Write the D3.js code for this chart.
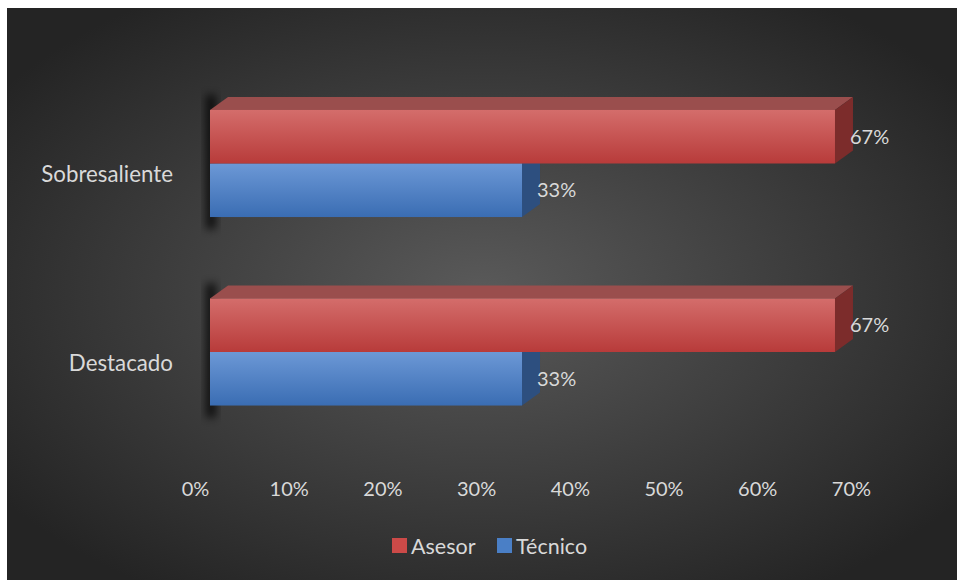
<!DOCTYPE html>
<html><head><meta charset="utf-8">
<script src="https://cdn.jsdelivr.net/npm/d3@7"></script>
<style>html,body{margin:0;padding:0;background:#fff;}svg{display:block;}</style>
</head><body>
<svg id="c" width="957" height="580"></svg>
<script>
const categories = ["Sobresaliente", "Destacado"];
const seriesNames = ["Asesor", "Técnico"];
const asesor = [0.667, 0.667];
const tecnico = [0.333, 0.333];
const tickValues = [0, 0.1, 0.2, 0.3, 0.4, 0.5, 0.6, 0.7];

const svg = d3.select("#c");
const font = "Lato, 'Open Sans', sans-serif";
const defs = svg.append("defs");

const bg = defs.append("radialGradient").attr("id","bg").attr("cx","50%").attr("cy","50%").attr("r","62%");
bg.append("stop").attr("offset","0%").attr("stop-color","#5a5a5a");
bg.append("stop").attr("offset","100%").attr("stop-color","#242424");

function lin(id, c1, c2){
  const g = defs.append("linearGradient").attr("id", id).attr("x1",0).attr("y1",0).attr("x2",0).attr("y2",1);
  g.append("stop").attr("offset","0%").attr("stop-color",c1);
  g.append("stop").attr("offset","100%").attr("stop-color",c2);
}
lin("redF", "#d46d6b", "#b83b3a");
lin("bluF", "#6c98d6", "#3a6db3");
defs.append("filter").attr("id","blur").attr("x","-50%").attr("y","-20%").attr("width","200%").attr("height","140%")
  .append("feGaussianBlur").attr("stdDeviation", 4);

svg.append("rect").attr("x",7).attr("y",8).attr("width",950).attr("height",572).attr("fill","url(#bg)");

const x = d3.scaleLinear().domain([0, 0.7]).range([210, 210 + 0.7 * 937]);
const y = d3.scaleBand().domain(categories).range([69.25, 446.25]).paddingInner(0.432).paddingOuter(0.216);
const ys = d3.scaleBand().domain(seriesNames).range([0, y.bandwidth()]);
const dx = 18, dy = -13;

const color = {
  "Asesor": {front:"url(#redF)", top:"#9a4e4d", side:"#7c2c2b"},
  "Técnico": {front:"url(#bluF)", top:"#4f74a8", side:"#2d4f7f"}
};
const values = {"Asesor": asesor, "Técnico": tecnico};

// shadows
categories.forEach(c => {
  const y0 = y(c), y1 = y(c) + y.bandwidth();
  svg.append("path")
    .attr("d", `M${x(0)-4},${y0+dy-2} L${x(0)+6},${y0+dy-2} L${x(0)+6},${y1+12} L${x(0)-4},${y1+12} Z`)
    .attr("fill","#000").attr("opacity",0.75).attr("filter","url(#blur)");
});

const order = ["Técnico", "Asesor"];
categories.forEach((c, i) => {
  order.forEach(s => {
    const v = values[s][i];
    const x0 = x(0), x1 = x(v);
    const t = y(c) + ys(s), b = t + ys.bandwidth();
    const g = svg.append("g");
    g.append("path").attr("d", `M${x0},${t} L${x0+dx},${t+dy} L${x1+dx},${t+dy} L${x1},${t} Z`).attr("fill", color[s].top);
    g.append("path").attr("d", `M${x1},${t} L${x1+dx},${t+dy} L${x1+dx},${b+dy} L${x1},${b} Z`).attr("fill", color[s].side);
    g.append("rect").attr("x", x0).attr("y", t).attr("width", x1 - x0).attr("height", b - t).attr("fill", color[s].front);
    g.append("text").attr("x", x1 + 15).attr("y", (t + b) / 2).attr("dy","0.35em")
      .attr("font-family", font).attr("font-size", 20).attr("fill", "#d9d9d9")
      .text(d3.format(".0%")(v));
  });
  svg.append("text").attr("x", 173).attr("y", y(c) + y.bandwidth()/2 + 11).attr("dy","0.35em")
    .attr("text-anchor","end").attr("font-family", font).attr("font-size", 22.3).attr("fill","#d9d9d9").text(c);
});

// axis
const axisG = svg.append("g").attr("transform","translate(-15,489)");
const axis = d3.axisBottom(x).tickValues(tickValues).tickFormat(d3.format(".0%")).tickSize(0).tickPadding(0);
axisG.call(axis);
axisG.select(".domain").remove();
axisG.selectAll("text").attr("font-family", font).attr("font-size", 20).attr("fill","#d9d9d9").attr("dy","0.35em").attr("y",0);

// legend
const leg = svg.append("g");
const legItems = [{n:"Asesor", c:"#cc4a48", x:392}, {n:"Técnico", c:"#4a7fc6", x:497}];
legItems.forEach(d => {
  leg.append("rect").attr("x", d.x).attr("y", 538).attr("width", 15).attr("height", 15).attr("fill", d.c);
  leg.append("text").attr("x", d.x + 19).attr("y", 546).attr("dy","0.35em").attr("font-family", font)
    .attr("font-size", 21.5).attr("fill","#d9d9d9").text(d.n);
});
</script>
</body></html>
